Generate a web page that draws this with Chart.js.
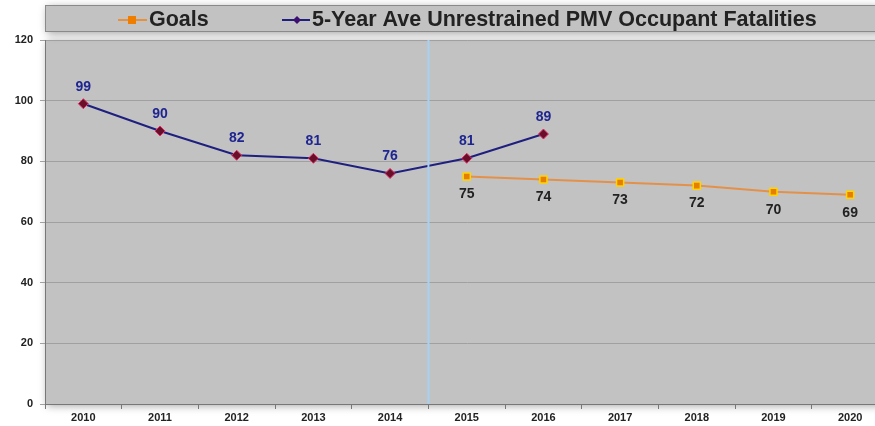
<!DOCTYPE html>
<html>
<head>
<meta charset="utf-8">
<script src="https://cdn.jsdelivr.net/npm/chart.js@4"></script>
<style>
  html, body { margin: 0; padding: 0; background: #fff; overflow: hidden; }
  #wrap { width: 895px; height: 426px; }
</style>
</head>
<body>
<div id="wrap"><canvas id="fatalChart"></canvas></div>
<script>
const years = ['2010', '2011', '2012', '2013', '2014', '2015', '2016', '2017', '2018', '2019', '2020'];
const goals = [null, null, null, null, null, 75, 74, 73, 72, 70, 69];
const fatalities = [99, 90, 82, 81, 76, 81, 89, null, null, null, null];
const yTicks = [0, 20, 40, 60, 80, 100, 120];

const goalsLabel = 'Goals';
const fatalLabel = '5-Year Ave Unrestrained PMV Occupant Fatalities';

// gray plot background + legend box + divider line
const decor = {
  id: 'decor',
  beforeDraw(chart) {
    const { ctx, chartArea: a } = chart;
    ctx.save();
    ctx.shadowColor = 'rgba(0,0,0,0.35)';
    ctx.shadowBlur = 8;
    ctx.shadowOffsetX = 2;
    ctx.shadowOffsetY = 2;
    ctx.fillStyle = '#c2c2c2';
    ctx.fillRect(a.left, a.top, a.right - a.left, a.bottom - a.top);
    ctx.fillRect(45, 5, 880, 27);
    ctx.restore();
    ctx.save();
    ctx.strokeStyle = '#8a8a8a';
    ctx.lineWidth = 1;
    ctx.strokeRect(45.5, 5.5, 880, 26);
    ctx.restore();
  },
  afterDatasetsDraw(chart) {
    const { ctx, chartArea: a, scales: { x } } = chart;
    const xs = (x.getPixelForTick(4) + x.getPixelForTick(5)) / 2;
    ctx.save();
    ctx.strokeStyle = '#a8d0f5';
    ctx.lineWidth = 2;
    ctx.beginPath();
    ctx.moveTo(xs, a.top);
    ctx.lineTo(xs, a.bottom);
    ctx.stroke();
    ctx.restore();
  },
  afterDraw(chart) {
    const ctx = chart.ctx;
    ctx.save();
    ctx.font = 'bold 21.5px Arial, "Liberation Sans"';
    ctx.textBaseline = 'middle';
    const cy = 20;
    // goals entry
    ctx.strokeStyle = '#e8903a';
    ctx.lineWidth = 2;
    ctx.beginPath(); ctx.moveTo(118, cy); ctx.lineTo(147, cy); ctx.stroke();
    ctx.fillStyle = '#ee7d00';
    ctx.fillRect(128, cy - 4, 8, 8);
    ctx.fillStyle = '#222';
    ctx.fillText(goalsLabel, 149, cy);
    // fatalities entry
    ctx.strokeStyle = '#1f1f80';
    ctx.beginPath(); ctx.moveTo(282, cy); ctx.lineTo(310, cy); ctx.stroke();
    ctx.fillStyle = '#3a1070';
    ctx.beginPath();
    ctx.moveTo(297, cy - 4); ctx.lineTo(301, cy); ctx.lineTo(297, cy + 4); ctx.lineTo(293, cy);
    ctx.closePath(); ctx.fill();
    ctx.fillStyle = '#222';
    ctx.fillText(fatalLabel, 312, cy);
    ctx.restore();
  }
};

// value labels above / below points
const valueLabels = {
  id: 'valueLabels',
  afterDatasetsDraw(chart) {
    const ctx = chart.ctx;
    ctx.save();
    ctx.font = 'bold 14px Arial, "Liberation Sans"';
    ctx.textAlign = 'center';
    ctx.textBaseline = 'middle';
    chart.data.datasets.forEach((ds, i) => {
      const meta = chart.getDatasetMeta(i);
      meta.data.forEach((pt, j) => {
        const v = ds.data[j];
        if (v === null || v === undefined) return;
        if (ds.label === goalsLabel) {
          ctx.fillStyle = '#222';
          ctx.fillText(v, pt.x, pt.y + 18);
        } else {
          ctx.fillStyle = '#1f2590';
          ctx.fillText(v, pt.x, pt.y - 17);
        }
      });
    });
    ctx.restore();
  }
};

new Chart(document.getElementById('fatalChart'), {
  type: 'line',
  data: {
    labels: years,
    datasets: [{
      label: goalsLabel,
      data: goals,
      borderColor: '#e3914a',
      borderWidth: 2,
      pointStyle: 'rect',
      pointRadius: 5,
      pointBackgroundColor: '#e67e00',
      pointBorderColor: '#ffd400',
      pointBorderWidth: 1.5,
      tension: 0
    }, {
      label: fatalLabel,
      data: fatalities,
      borderColor: '#1f1f80',
      borderWidth: 2,
      pointStyle: 'rectRot',
      pointRadius: 5,
      pointBackgroundColor: '#6a0f2a',
      pointBorderColor: '#e0306a',
      pointBorderWidth: 1,
      tension: 0
    }]
  },
  options: {
    responsive: true,
    maintainAspectRatio: false,
    animation: false,
    layout: { padding: { top: 40, right: 2, left: 0, bottom: 0 } },
    plugins: {
      legend: { display: false },
      tooltip: { enabled: false }
    },
    scales: {
      x: {
        offset: true,
        grid: { offset: true, drawOnChartArea: false, tickLength: 5, color: '#777' },
        border: { color: '#777', width: 1 },
        ticks: { color: '#222', font: { family: 'Arial', weight: 'bold', size: 11 }, padding: 2, maxRotation: 0 },
        afterFit(s) { s.height = 22; }
      },
      y: {
        min: 0,
        max: 120,
        afterBuildTicks(s) { s.ticks = yTicks.map(v => ({ value: v })); },
        grid: { color: '#a0a0a0', tickLength: 5 },
        border: { color: '#777', width: 1 },
        ticks: { color: '#222', font: { family: 'Arial', weight: 'bold', size: 11 }, padding: 7 },
        afterFit(s) { s.width = 45; }
      }
    }
  },
  plugins: [decor, valueLabels]
});
</script>
</body>
</html>
